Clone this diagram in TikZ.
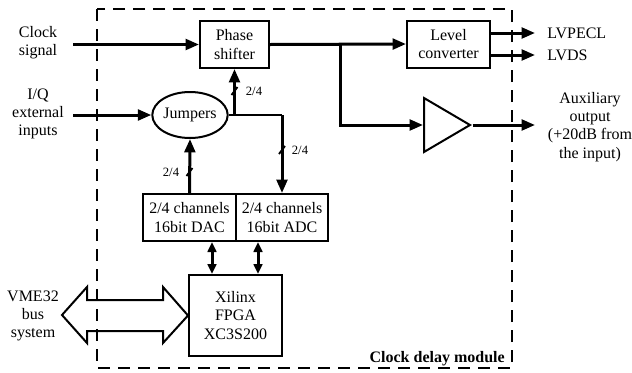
\documentclass[tikz,border=0pt]{standalone}
\usepackage{fontspec}
\setmainfont{Liberation Serif}
\usetikzlibrary{shapes.geometric}
\usetikzlibrary{arrows.meta}

\tikzset{
    block/.style={draw, line width=1.5pt, rectangle, align=center, inner sep=0pt, font=\fontsize{12}{13.7}\selectfont},
    txt/.style={align=center, inner sep=0pt, font=\fontsize{12}{13.7}\selectfont},
    sig/.style={line width=2.25pt, -{Triangle[length=10pt,width=8pt]}},
    bidir/.style={line width=2.25pt, {Triangle[length=7.5pt,width=6.5pt]}-{Triangle[length=7.5pt,width=6.5pt]}},
    tickmark/.style={line width=1.4pt},
    buswidth/.style={inner sep=0pt, font=\fontsize{9.5}{11}\selectfont}
}

\begin{document}
\begin{tikzpicture}[x=0.75pt, y=-0.75pt]

    \useasboundingbox (0,0) rectangle (632,372);

    % blocks
    \node[block, minimum width=51.75pt, minimum height=35.25pt] (ndPhase) at (234.5,44.5) {Phase\\shifter};
    \node[block, minimum width=62.25pt, minimum height=35.25pt] (ndLevel) at (448.5,44) {Level\\converter};
    \node[block, ellipse, minimum width=55.5pt, minimum height=34.5pt] (ndJumpers) at (190,115) {Jumpers};
    \node[block, minimum width=69.75pt, minimum height=35.25pt] (ndDAC) at (189.5,217.5) {2/4 channels\\16bit DAC};
    \node[block, minimum width=69pt, minimum height=35.25pt] (ndADC) at (282,217.5) {2/4 channels\\16bit ADC};
    \node[block, minimum width=69.75pt, minimum height=60.75pt] (ndFPGA) at (235.5,315.5) {Xilinx\\FPGA\\XC3S200};
    \node[draw, line width=1.5pt, isosceles triangle, isosceles triangle stretches, minimum width=40.5pt, minimum height=34.5pt, inner sep=0pt, anchor=west] (ndAmp) at (423,125) {};

    % outside texts
    \node[txt] (ndClock) at (38,43) {Clock\\signal};
    \node[txt] (ndIQ) at (38,114) {I/Q\\external\\inputs};
    \node[txt] (ndVME) at (33,316) {VME32\\bus\\system};
    \node[txt, anchor=west] (ndLVPECL) at (547,33) {LVPECL};
    \node[txt, anchor=west] (ndLVDS) at (547,55) {LVDS};
    \node[txt] (ndAux) at (590,127) {Auxiliary\\output\\(+20dB from\\the input)};

    \coordinate (cdClockIn) at (73,44.5);
    \coordinate (cdIQIn) at (73,115);
    \coordinate (cdSplit) at (340,44.5);
    \coordinate (cdFork) at (282,115);
    \coordinate (cdDacLink) at (212,258);
    \coordinate (cdAdcLink) at (258,258);

    % signal paths
    \draw[sig] (cdClockIn) -- (ndPhase.west);
    \draw[sig] (cdIQIn) -- (ndJumpers.west);
    \draw[sig] (ndPhase.east) -- (ndLevel.west);
    \draw[sig] (cdSplit) |- (ndAmp.west);
    \draw[sig] (ndAmp.east) -- (535,125);
    \draw[sig] (ndLevel.east |- ndLVPECL.west) -- (535,33);
    \draw[sig] (ndLevel.east |- ndLVDS.west) -- (535,55);
    \draw[line width=1.5pt] (ndJumpers.east) -- (cdFork);
    \draw[sig] (ndPhase.south |- ndJumpers.east) -- (ndPhase.south);
    \draw[sig] (cdFork) -- (ndADC.north);
    \draw[sig] (ndDAC.north) -- (ndJumpers.south);
    \draw[bidir] (cdDacLink |- ndDAC.south) -- (cdDacLink |- ndFPGA.north);
    \draw[bidir] (cdAdcLink |- ndADC.south) -- (cdAdcLink |- ndFPGA.north);

    % bus width marks
    \draw[tickmark] (234.5,91) ++(-3,4) -- ++(6,-8);
    \node[buswidth] (ndW1) at (254,91) {2/4};
    \draw[tickmark] (282,150) ++(-3,4) -- ++(6,-8);
    \node[buswidth] (ndW2) at (300,150) {2/4};
    \draw[tickmark] (189.5,172) ++(-3,4) -- ++(6,-8);
    \node[buswidth] (ndW3) at (171,172) {2/4};

    % VME bus arrow
    \draw[line width=1.5pt, fill=white] (62,315) -- (87,287) -- (87,300) -- (163,300) -- (163,287) -- (ndFPGA.west) -- (163,343) -- (163,331) -- (87,331) -- (87,343) -- cycle;

    % module frame
    \draw[line width=1.5pt, dash pattern=on 9pt off 6pt] (97,9) rectangle (512,368);
    \node[anchor=base east, inner sep=0pt, font=\fontsize{12}{13.7}\selectfont\bfseries] (ndModule) at (505,362) {Clock delay module};

\end{tikzpicture}
\end{document}
